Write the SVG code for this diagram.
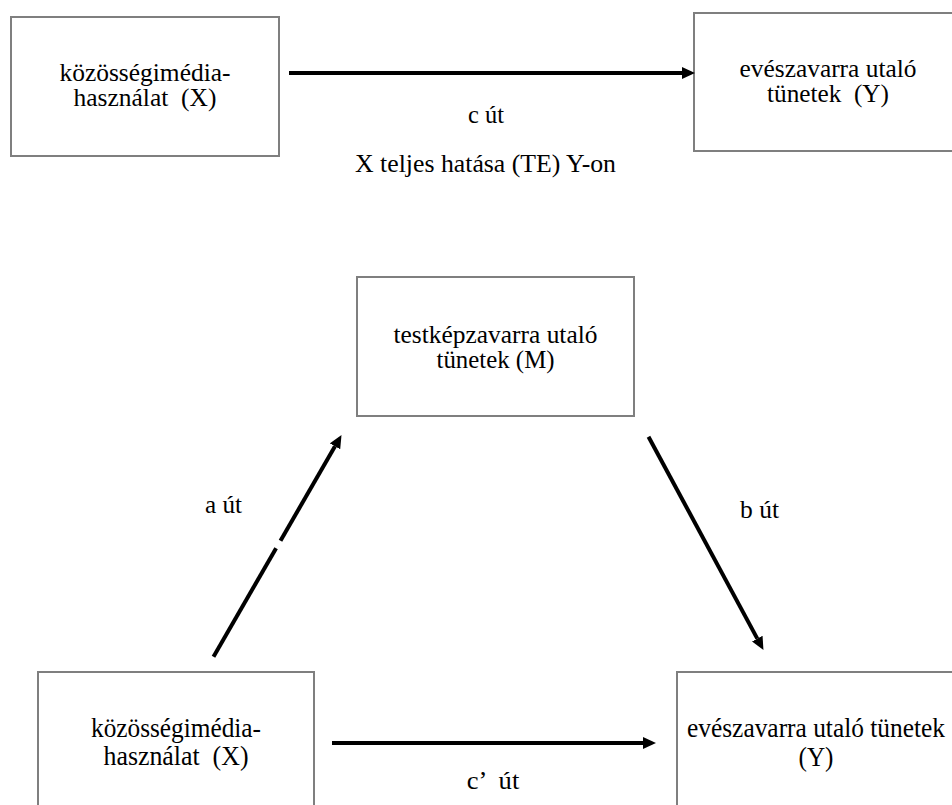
<svg xmlns="http://www.w3.org/2000/svg" width="952" height="805" viewBox="0 0 952 805">
  <style>
    .box { fill: #ffffff; stroke: #7f7f7f; stroke-width: 2; }
    .lbl { font-family: 'Liberation Serif', 'Times New Roman', Times, Tinos, 'Noto Serif', 'DejaVu Serif', FreeSerif, serif; font-size: 25.4px; fill: #000000; }
    .tight { font-size: 24.2px; }
    .mid { text-anchor: middle; }
    .arrow { stroke: #000000; stroke-width: 4; fill: none; stroke-linecap: butt; }
  </style>
  <defs>
    <marker id="head" viewBox="0 -6 13 12" markerWidth="13" markerHeight="12" refX="0" refY="0" markerUnits="userSpaceOnUse" orient="auto">
      <path d="M0,-6 L13,0 L0,6 Z" fill="#000000"/>
    </marker>
  </defs>
  <rect width="952" height="805" fill="#ffffff"/>

  <g id="node-top-x">
    <rect class="box" x="11" y="17" width="268" height="139"/>
    <text class="lbl tight mid" xml:space="preserve"><tspan x="145" y="81" textLength="171" lengthAdjust="spacingAndGlyphs">közösségimédia-</tspan><tspan x="145" y="106" textLength="143" lengthAdjust="spacingAndGlyphs">használat  (X)</tspan></text>
  </g>

  <g id="node-top-y">
    <rect class="box" x="694" y="13" width="268" height="138"/>
    <text class="lbl tight mid" xml:space="preserve"><tspan x="828" y="77" textLength="177" lengthAdjust="spacingAndGlyphs">evészavarra utaló</tspan><tspan x="828" y="102" textLength="122" lengthAdjust="spacingAndGlyphs">tünetek  (Y)</tspan></text>
  </g>

  <g id="node-m">
    <rect class="box" x="357" y="277" width="277" height="139"/>
    <text class="lbl tight mid"><tspan x="495.5" y="342.5" textLength="204" lengthAdjust="spacingAndGlyphs">testképzavarra utaló</tspan><tspan x="495.5" y="367.5" textLength="118" lengthAdjust="spacingAndGlyphs">tünetek (M)</tspan></text>
  </g>

  <g id="node-bottom-x">
    <rect class="box" x="38" y="672" width="276" height="150"/>
    <text class="lbl mid" transform="translate(176,736.7) scale(1,1.09)" xml:space="preserve"><tspan x="0" y="0" textLength="170" lengthAdjust="spacingAndGlyphs">közösségimédia-</tspan><tspan x="0" y="26" textLength="145" lengthAdjust="spacingAndGlyphs">használat  (X)</tspan></text>
  </g>

  <g id="node-bottom-y">
    <rect class="box" x="677" y="672" width="278" height="150"/>
    <text class="lbl mid" transform="translate(816,736.7) scale(1,1.09)"><tspan x="0" y="0" textLength="258" lengthAdjust="spacingAndGlyphs">evészavarra utaló tünetek</tspan><tspan x="0" y="27" textLength="35" lengthAdjust="spacingAndGlyphs">(Y)</tspan></text>
  </g>

  <g id="connectors">
    <path class="arrow" d="M289,73 L682,73" marker-end="url(#head)"/>
    <path class="arrow" d="M213.5,656.7 L276.1,548.3"/>
    <path class="arrow" d="M280.5,540.7 L335,446.3" marker-end="url(#head)"/>
    <path class="arrow" d="M648.5,436.7 L757.3,638.6" marker-end="url(#head)"/>
    <path class="arrow" d="M332,743 L643,743" marker-end="url(#head)"/>
  </g>

  <g id="labels">
    <text class="lbl mid" x="486" y="123" textLength="36" lengthAdjust="spacingAndGlyphs">c út</text>
    <text class="lbl mid" x="485.5" y="172" textLength="261" lengthAdjust="spacingAndGlyphs">X teljes hatása (TE) Y-on</text>
    <text class="lbl" x="205" y="513" textLength="37" lengthAdjust="spacingAndGlyphs">a út</text>
    <text class="lbl" x="740" y="518" textLength="39" lengthAdjust="spacingAndGlyphs">b út</text>
    <text class="lbl mid" x="493" y="789" textLength="52.6" lengthAdjust="spacingAndGlyphs" xml:space="preserve">c’  út</text>
  </g>
</svg>
